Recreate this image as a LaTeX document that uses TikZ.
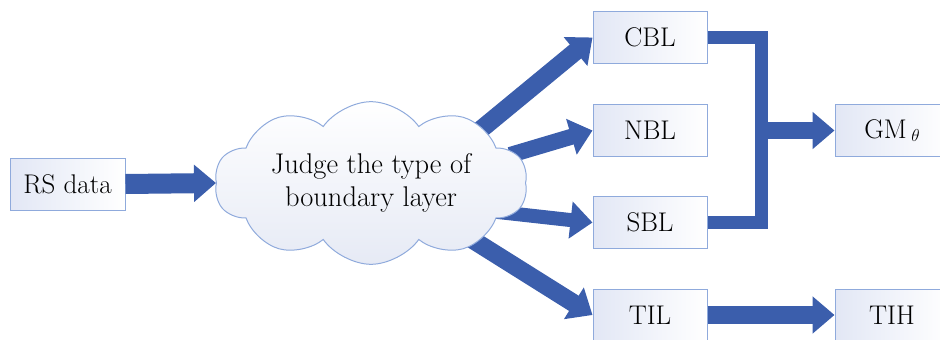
\documentclass[tikz,border=0pt]{standalone}
\usepackage{fontspec}
\usetikzlibrary{arrows.meta,shapes.symbols,backgrounds}
\definecolor{arrowblue}{RGB}{59,94,172}
\definecolor{boxline}{RGB}{143,170,220}
\definecolor{boxfill}{RGB}{226,231,245}
\definecolor{cloudfill}{RGB}{230,234,245}
\begin{document}
\begin{tikzpicture}[x=1pt,y=-1pt,
  box/.style={draw=boxline, line width=1pt, left color=boxfill, right color=white,
    minimum width=114pt, minimum height=52pt, inner sep=0pt,
    font=\fontsize{27}{30}\selectfont},
  fat/.style={draw=arrowblue, line width=#1, -{Triangle[length=22pt,width=36pt]}},
  bus/.style={draw=arrowblue, line width=13pt, line join=miter}
]
\useasboundingbox (0,0) rectangle (940,340);

\node[box, minimum width=115pt] (RS) at (67.5,184) {RS data};
\node[cloud, cloud puffs=10, cloud puff arc=110, aspect=2.3, draw=boxline, line width=1pt,
      top color=white, bottom color=cloudfill,
      minimum width=313pt, minimum height=136pt, inner sep=0pt, align=center,
      font=\fontsize{28.5}{33}\selectfont] (cloud) at (371,183)
      {Judge the type of\\boundary layer};

\node[box] (CBL) at (650,37.5) {CBL};
\node[box] (NBL) at (650,130.5) {NBL};
\node[box] (SBL) at (650,222.5) {SBL};
\node[box] (TIL) at (650,315) {TIL};
\node[box] (GM) at (892,130.5) {GM\,\raisebox{-3pt}{$\scriptstyle\theta$}};
\node[box] (TIH) at (892,315) {TIH};

\coordinate (sC) at (479,131);
\coordinate (sN) at (510,155);
\coordinate (sS) at (480,210);
\coordinate (sT) at (449,225);
\coordinate (busx) at (761.5,130.5);

\begin{pgfonlayer}{background}
\draw[fat=18pt] (sC) -- (CBL.west);
\draw[fat=16pt] (sN) -- (NBL.west);
\draw[fat=14pt] (sS) -- (SBL.west);
\draw[fat=18pt] (sT) -- (TIL.west);
\end{pgfonlayer}

\draw[fat=20pt] (RS.east) -- (cloud.west);
\draw[bus] (CBL.east) -- (CBL.east -| busx) -- (SBL.east -| busx) -- (SBL.east);
\draw[fat=17pt] (busx) -- (GM.west);
\draw[fat=18pt] (TIL.east) -- (TIH.west);
\end{tikzpicture}
\end{document}
